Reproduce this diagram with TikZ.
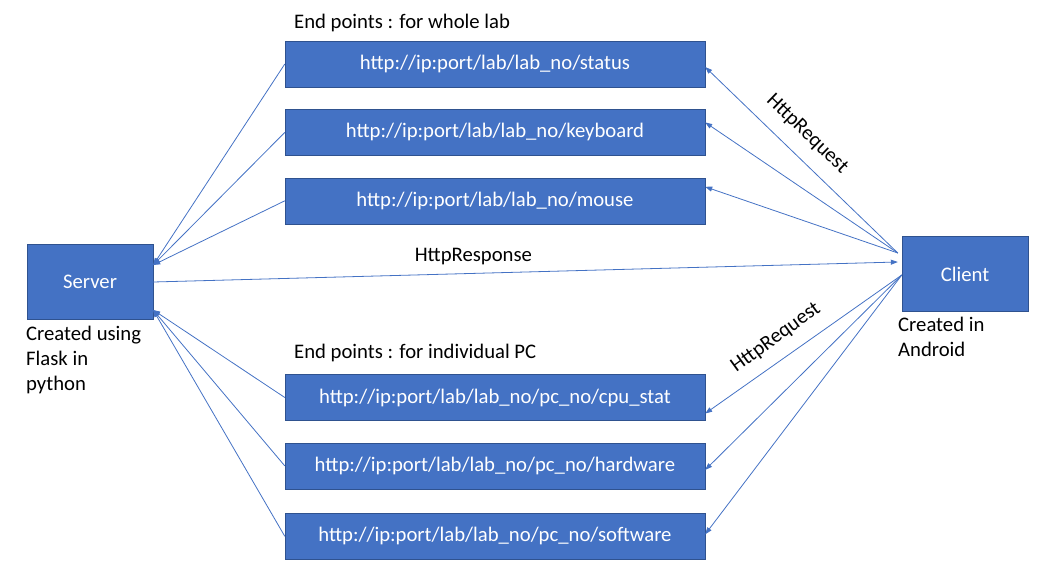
\documentclass[tikz,border=0pt]{standalone}
\usepackage{fontspec}
\setmainfont{Carlito}
\usetikzlibrary{arrows.meta,positioning}
\definecolor{boxblue}{HTML}{4472C4}
\definecolor{boxedge}{HTML}{2F528F}

\begin{document}
\begin{tikzpicture}[x=1pt, y=-1pt,
      node distance=22pt,
      box/.style={draw=boxedge, fill=boxblue, text=white, minimum width=126pt,
      minimum height=75pt, font=\fontsize{20.7}{24}\selectfont},
      urlbox/.style={box, minimum width=420pt, minimum height=46pt},
      note/.style={align=left, inner sep=0pt, font=\fontsize{20.7}{25}\selectfont},
      flow/.style={-{Triangle[length=7pt, width=5pt]}, draw=boxblue, line width=0.8pt}
    ]
    \useasboundingbox (0,0) rectangle (1050,584);
    \node[box] (server) at (90,282) {Server};
    \node[box] (client) at (965,274) {Client};
    % end points for the whole lab
    \node[urlbox] (status) at (495,64) {http://ip:port/lab/lab\_no/status};
    \node[urlbox, below=of status] (keyboard) {http://ip:port/lab/lab\_no/keyboard};
    \node[urlbox, below=of keyboard] (mouse) {http://ip:port/lab/lab\_no/mouse};
    % end points for one pc
    \node[urlbox] (cpustat) at (495,397.5) {http://ip:port/lab/lab\_no/pc\_no/cpu\_stat};
    \node[urlbox, below=of cpustat] (hardware) {http://ip:port/lab/lab\_no/pc\_no/hardware};
    \node[urlbox, below=24pt of hardware] (software) {http://ip:port/lab/lab\_no/pc\_no/software};
    \node[note, anchor=base west] (labnote) at (294,28) {End points : for whole lab};
    \node[note, anchor=base west] (pcnote) at (294,358) {End points : for individual PC};
    \node[note, anchor=north west] (servernote) at (26,326) {Created using\\Flask in\\python};
    \node[note, anchor=north west] (clientnote) at (898,317) {Created in\\Android};
    \draw[flow] (status.west) -- ([yshift=17pt]server.east);
    \draw[flow] (keyboard.west) -- ([yshift=17pt]server.east);
    \draw[flow] (mouse.west) -- ([yshift=17pt]server.east);
    \draw[flow] (cpustat.west) -- ([yshift=-28pt]server.east);
    \draw[flow] (hardware.west) -- ([yshift=-28pt]server.east);
    \draw[flow] (software.west) -- ([yshift=-28pt]server.east);
    \draw[flow] (server.east) -- node[note, pos=0.43, above=8pt] (resp) {HttpResponse} ([xshift=-4pt, yshift=12pt]client.west);
    \draw[flow] ([xshift=-4pt, yshift=21pt]client.west) -- ([yshift=-3pt]status.east);
    \draw[flow] ([xshift=-4pt, yshift=21pt]client.west) -- ([yshift=10pt]keyboard.east);
    \draw[flow] ([xshift=-4pt, yshift=21pt]client.west) -- ([yshift=14pt]mouse.east);
    \draw[flow] ([yshift=-1pt]client.west) -- ([yshift=-16pt]cpustat.east);
    \draw[flow] ([yshift=-1pt]client.west) -- ([yshift=-4pt]hardware.east);
    \draw[flow] ([yshift=-1pt]client.west) -- ([yshift=2pt]software.east);
    \node[note, rotate=-44] (req1) at (807,134) {HttpRequest};
    \node[note, rotate=36] (req2) at (776,338) {HttpRequest};
  \end{tikzpicture}
\end{document}
